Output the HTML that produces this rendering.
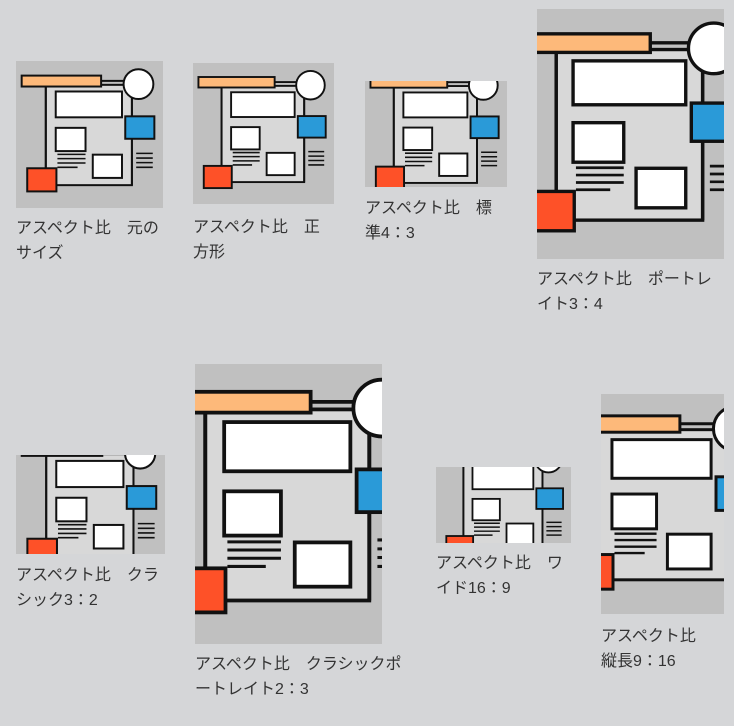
<!DOCTYPE html>
<html><head><meta charset="utf-8">
<style>
body{margin:0;width:734px;height:726px;background:#d5d6d8;position:relative;overflow:hidden;font-family:"Liberation Sans","Noto Sans CJK JP",sans-serif;}
svg.t{position:absolute;display:block}
.l{position:absolute;font-size:16px;line-height:25px;color:#333;white-space:nowrap}
</style></head><body>
<svg width="0" height="0" style="position:absolute">
<defs>
<g id="art">
<rect x="0" y="0" width="148" height="148" fill="#c0c0c0"/>
<rect x="30" y="24" width="86.7" height="101" fill="#d8d8d8" stroke="#111" stroke-width="2"/>
<line x1="30" y1="20" x2="30" y2="112" stroke="#111" stroke-width="2"/>
<line x1="85" y1="20" x2="112" y2="20" stroke="#111" stroke-width="2"/>
<line x1="116.7" y1="35" x2="116.7" y2="125" stroke="#111" stroke-width="2"/>
<rect x="5.7" y="14.7" width="80" height="11" fill="#fdb97a" stroke="#111" stroke-width="2"/>
<circle cx="123.3" cy="23.3" r="15" fill="#fff" stroke="#111" stroke-width="2"/>
<rect x="40" y="30.7" width="66.7" height="26" fill="#fff" stroke="#111" stroke-width="2"/>
<rect x="110" y="55.7" width="29.3" height="22.6" fill="#2a9ad8" stroke="#111" stroke-width="2"/>
<rect x="40" y="67.3" width="30" height="23.4" fill="#fff" stroke="#111" stroke-width="2"/>
<rect x="77.3" y="94.3" width="29.4" height="23.4" fill="#fff" stroke="#111" stroke-width="2"/>
<g stroke="#111" stroke-width="1.6">
<line x1="41.7" y1="94" x2="70" y2="94"/><line x1="41.7" y1="98.3" x2="70" y2="98.3"/><line x1="41.7" y1="102.7" x2="70" y2="102.7"/><line x1="41.7" y1="107" x2="62" y2="107"/>
<line x1="121" y1="93" x2="137.7" y2="93"/><line x1="121" y1="97.7" x2="137.7" y2="97.7"/><line x1="121" y1="102.3" x2="137.7" y2="102.3"/><line x1="121" y1="107" x2="137.7" y2="107"/>
</g>
<rect x="11.3" y="108" width="29.4" height="23.3" fill="#fe5128" stroke="#111" stroke-width="2"/>
</g>
</defs></svg>

<svg class="t" style="left:16px;top:61px" width="147" height="147" viewBox="0 0 148 148" preserveAspectRatio="xMidYMid slice"><use href="#art"/></svg>
<div class="l" style="left:16px;top:216px">アスペクト比　元の<br>サイズ</div>

<svg class="t" style="left:193px;top:63px" width="141" height="141" viewBox="0 0 148 148" preserveAspectRatio="xMidYMid slice"><use href="#art"/></svg>
<div class="l" style="left:193px;top:215px">アスペクト比　正<br>方形</div>

<svg class="t" style="left:365px;top:81px" width="142" height="106" viewBox="0 0 148 148" preserveAspectRatio="xMidYMid slice"><use href="#art"/></svg>
<div class="l" style="left:365px;top:196px">アスペクト比　標<br>準4：3</div>

<svg class="t" style="left:537px;top:9px" width="187" height="250" viewBox="0 0 148 148" preserveAspectRatio="xMidYMid slice"><use href="#art"/></svg>
<div class="l" style="left:537px;top:267px">アスペクト比　ポートレ<br>イト3：4</div>

<svg class="t" style="left:16px;top:455px" width="149" height="99" viewBox="0 0 148 148" preserveAspectRatio="xMidYMid slice"><use href="#art"/></svg>
<div class="l" style="left:16px;top:563px">アスペクト比　クラ<br>シック3：2</div>

<svg class="t" style="left:195px;top:364px" width="187" height="280" viewBox="0 0 148 148" preserveAspectRatio="xMidYMid slice"><use href="#art"/></svg>
<div class="l" style="left:195px;top:652px">アスペクト比　クラシックポ<br>ートレイト2：3</div>

<svg class="t" style="left:436px;top:467px" width="135" height="76" viewBox="0 0 148 148" preserveAspectRatio="xMidYMid slice"><use href="#art"/></svg>
<div class="l" style="left:436px;top:551px">アスペクト比　ワ<br>イド16：9</div>

<svg class="t" style="left:601px;top:394px" width="123" height="220" viewBox="0 0 148 148" preserveAspectRatio="xMidYMid slice"><use href="#art"/></svg>
<div class="l" style="left:601px;top:624px">アスペクト比<br>縦長9：16</div>
</body></html>
